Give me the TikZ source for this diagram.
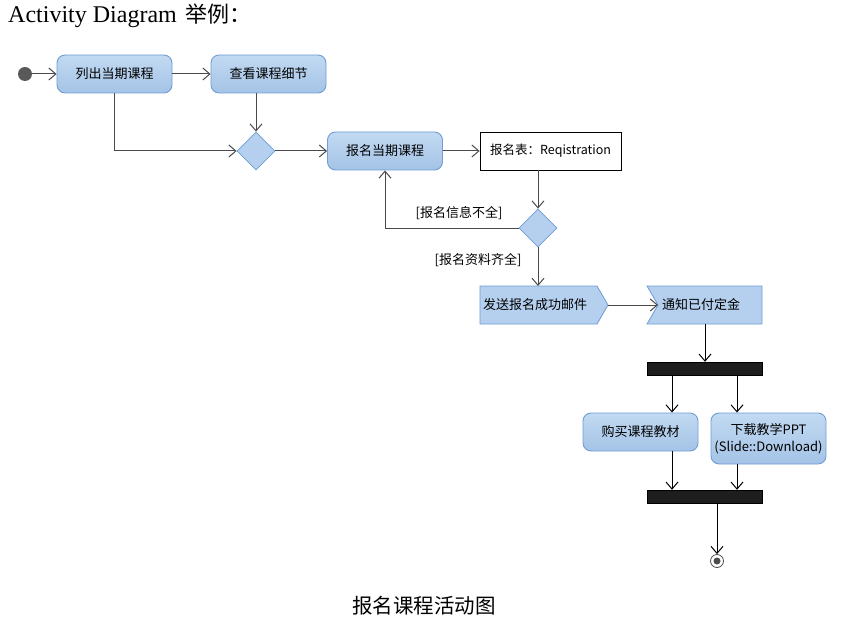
\documentclass[tikz,border=0pt]{standalone}
\usepackage{fontspec}
\setmainfont{Liberation Serif}
\newfontfamily\cjk{Noto Sans CJK SC}
\usetikzlibrary{arrows.meta,shapes.geometric}
\definecolor{actfill}{HTML}{B4D0EE}
\definecolor{acttop}{HTML}{C2DAF2}
\definecolor{actbot}{HTML}{A4C3E6}
\definecolor{actline}{HTML}{6F9DD4}
\definecolor{edge}{HTML}{4A4A4A}
\definecolor{barfill}{HTML}{1E1E1E}
\tikzset{
  act/.style={draw=actline, line width=0.9pt, rounded corners=8pt, top color=acttop, bottom color=actbot,
    minimum width=115pt, minimum height=38pt, inner sep=2pt, align=center, font=\cjk\fontsize{13}{16}\selectfont},
  objbox/.style={draw=black, line width=0.8pt, fill=white, minimum width=141pt, minimum height=38pt, inner sep=2pt,
    font=\cjk\fontsize{12.5}{15}\selectfont},
  decision/.style={diamond, draw=actline, line width=0.8pt, fill=actfill, minimum width=38pt, minimum height=38pt, inner sep=0pt, aspect=1},
  sigshape/.style={draw=actline, line width=0.8pt, fill=actfill},
  sigtext/.style={font=\cjk\fontsize{13}{16}\selectfont, inner sep=0pt, anchor=west},
  bar/.style={draw=black, fill=barfill, minimum width=115pt, minimum height=13pt, inner sep=0pt},
  flow/.style={draw=edge, line width=1pt, -{Straight Barb[length=7pt,width=12pt,line width=1pt]}},
  guard/.style={font=\cjk\fontsize{13}{16}\selectfont, inner sep=0pt},
}
\begin{document}
\begin{tikzpicture}[x=1pt,y=-1pt]
\useasboundingbox (0,0) rectangle (850,620);
% title
\node[anchor=west, inner sep=0pt] (title) at (8,16) {\fontsize{24}{28}\selectfont Activity Diagram\hspace{9pt}{\cjk\fontsize{22}{28}\selectfont 举例：}};
% start
\node[circle, fill=black!65, minimum size=14pt, inner sep=0pt] (start) at (25,74) {};
% actions
\node[act] (list) at (114.5,74) {列出当期课程};
\node[act] (view) at (268.5,74) {查看课程细节};
\node[decision] (d1) at (256,151) {};
\node[act] (reg) at (385,151) {报名当期课程};
\node[objbox] (form) at (550.5,151) {报名表：Reqistration};
\node[decision] (d2) at (538,228) {};
% send signal
\path[sigshape] (480,286) -- (597,286) -- (608,305) -- (597,324) -- (480,324) -- cycle;
\node[sigtext] (send) at (483,305) {发送报名成功邮件};
\coordinate (sendtop) at (538,286);
\coordinate (sendtip) at (608,305);
% accept event
\path[sigshape] (647,286) -- (762,286) -- (762,324) -- (647,324) -- (658,305) -- cycle;
\node[sigtext] (acc) at (662,305) {通知已付定金};
\coordinate (accnotch) at (658,305);
\coordinate (accbot) at (705,324);
% fork
\node[bar] (fork) at (704.5,368.5) {};
\node[act] (buy) at (640.5,432) {购买课程教材};
\node[act, minimum height=51pt, font=\cjk\fontsize{13}{17}\selectfont] (dl) at (768.5,438.5) {下载教学PPT\\(Slide::Download)};
\node[bar] (join) at (704.5,496.5) {};
% final
\node[circle, draw=black!70, fill=white, line width=0.8pt, minimum size=13pt, inner sep=0pt] (final) at (717,561) {};
\node[circle, fill=black!70, minimum size=7pt, inner sep=0pt] at (final) {};
% caption
\node[font=\cjk\fontsize{20.5}{24}\selectfont, inner sep=0pt] (cap) at (424,606) {报名课程活动图};
% flows
\draw[flow] (start) -- (list);
\draw[flow] (list) -- (view);
\draw[flow] (list.south) |- (d1.west);
\draw[flow] (view.south -| d1.north) -- (d1.north);
\draw[flow] (d1) -- (reg);
\draw[flow] (reg) -- (form);
\draw[flow] (form.south -| d2.north) -- (d2.north);
\draw[flow] (d2.west) -| (reg.south);
\node[guard] (g1) at (459,213) {[报名信息不全]};
\draw[flow] (d2.south) -- (sendtop);
\node[guard] (g2) at (478,260) {[报名资料齐全]};
\draw[flow] (sendtip) -- (accnotch);
\draw[flow, draw=black, line width=0.8pt] (accbot) -- (accbot |- fork.north);
\draw[flow, draw=black, line width=0.8pt] (fork.south -| 672,0) -- (buy.north -| 672,0);
\draw[flow, draw=black, line width=0.8pt] (fork.south -| 737,0) -- (dl.north -| 737,0);
\draw[flow, draw=black, line width=0.8pt] (buy.south -| 672,0) -- (join.north -| 672,0);
\draw[flow, draw=black, line width=0.8pt] (dl.south -| 737,0) -- (join.north -| 737,0);
\draw[flow, draw=black, line width=0.8pt] (join.south -| final) -- (final.north);
\end{tikzpicture}
\end{document}
